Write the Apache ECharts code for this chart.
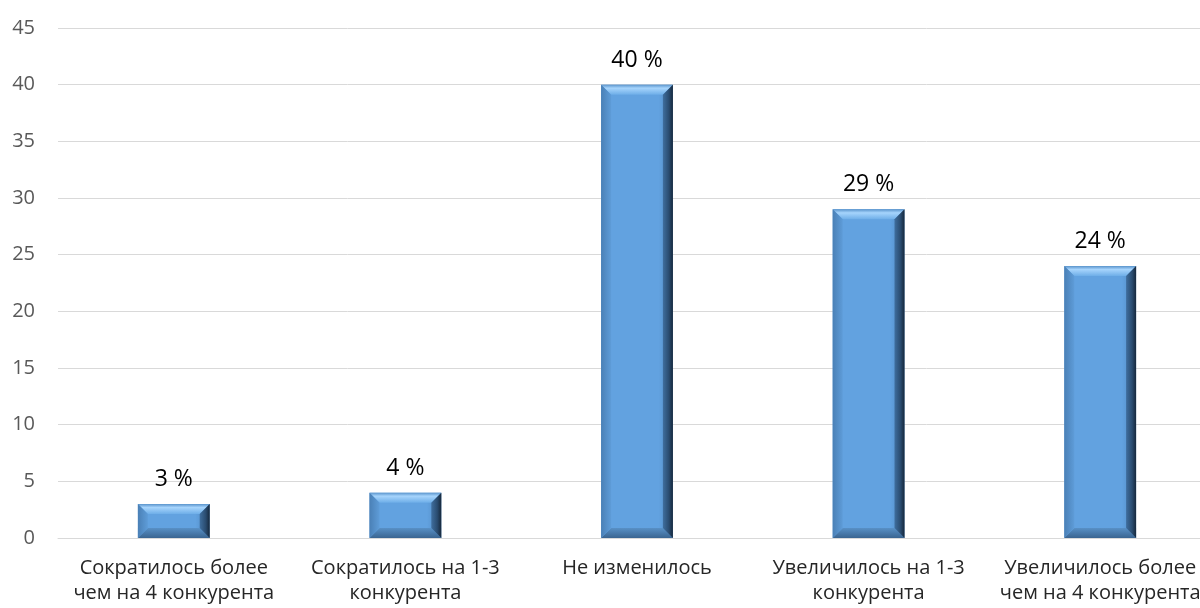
<!DOCTYPE html>
<html><head><meta charset="utf-8">
<script src="https://cdn.jsdelivr.net/npm/echarts@6/dist/echarts.min.js"></script>
<style>html,body{margin:0;padding:0;background:#fff;overflow:hidden}#c{width:1216px;height:608px}</style>
</head><body><div id="c"></div>
<script>
const categories = ['Сократилось более\nчем на 4 конкурента','Сократилось на 1-3\nконкурента','Не изменилось','Увеличилось на 1-3\nконкурента','Увеличилось более\nчем на 4 конкурента'];
const values = [3, 4, 40, 29, 24];
const yTicks = {min: 0, max: 45, interval: 5};
const font = '"Open Sans", "Liberation Sans", sans-serif';
const chart = echarts.init(document.getElementById('c'));
function bevelItem(params, api) {
  const idx = api.value(0), v = api.value(1);
  const top = api.coord([idx, v]);
  const base = api.coord([idx, 0]);
  const w = api.size([1, 0])[0] * 0.31;
  const x0 = top[0] - w / 2, x1 = top[0] + w / 2, y0 = top[1], y1 = base[1];
  const h = y1 - y0;
  const b = Math.min(10, h / 2.2, w / 4);
  const grad = (x, y, x2, y2, stops) => new echarts.graphic.LinearGradient(x, y, x2, y2, stops);
  return {type: 'group', children: [
    {type: 'rect', shape: {x: x0, y: y0, width: w, height: h},
      style: {fill: grad(0,0,1,0,[{offset:0,color:'#5b98d4'},{offset:0.1,color:'#62a2e0'},{offset:0.8,color:'#62a2e0'},{offset:1,color:'#4f86bd'}])},
      textContent: {style: {text: v + ' %', fill: '#000', fontSize: 23, fontFamily: font}},
      textConfig: {position: 'top', distance: 13}},
    {type: 'polygon', shape: {points: [[x0,y0],[x1,y0],[x1-b,y0+b],[x0+b,y0+b]]},
      style: {fill: grad(0,0,0,1,[{offset:0,color:'#5a94cc'},{offset:0.35,color:'#a6d4fc'},{offset:1,color:'#6eaee8'}])}},
    {type: 'polygon', shape: {points: [[x0,y1],[x1,y1],[x1-b,y1-b],[x0+b,y1-b]]},
      style: {fill: grad(0,1,0,0,[{offset:0,color:'#3a6591'},{offset:1,color:'#5890c6'}])}},
    {type: 'polygon', shape: {points: [[x0,y0],[x0+b,y0+b],[x0+b,y1-b],[x0,y1]]},
      style: {fill: grad(0,0,1,0,[{offset:0,color:'#4a80b6'},{offset:1,color:'#5e9cd8'}])}},
    {type: 'polygon', shape: {points: [[x1,y0],[x1-b,y0+b],[x1-b,y1-b],[x1,y1]]},
      style: {fill: grad(0,0,1,0,[{offset:0,color:'#3f6e9e'},{offset:0.6,color:'#2a4c70'},{offset:1,color:'#16283c'}])}}
  ]};
}
chart.setOption({
  animation: false,
  grid: {left: 58, right: 0, top: 28, bottom: 70, containLabel: false},
  xAxis: {type: 'category', data: categories,
    axisLine: {lineStyle: {color: '#d9d9d9', width: 1}}, axisTick: {show: false},
    axisLabel: {interval: 0, color: '#262626', fontSize: 20, lineHeight: 25, margin: 18, fontFamily: font}},
  yAxis: {type: 'value', min: yTicks.min, max: yTicks.max, interval: yTicks.interval,
    axisLine: {show: false}, axisTick: {show: false},
    splitLine: {lineStyle: {color: '#d9d9d9', width: 1}},
    axisLabel: {color: '#595959', fontSize: 20, margin: 23, fontFamily: font}},
  series: [{type: 'custom', renderItem: bevelItem, data: values.map((v, i) => [i, v]),
    encode: {x: 0, y: 1}}]
});
</script></body></html>
